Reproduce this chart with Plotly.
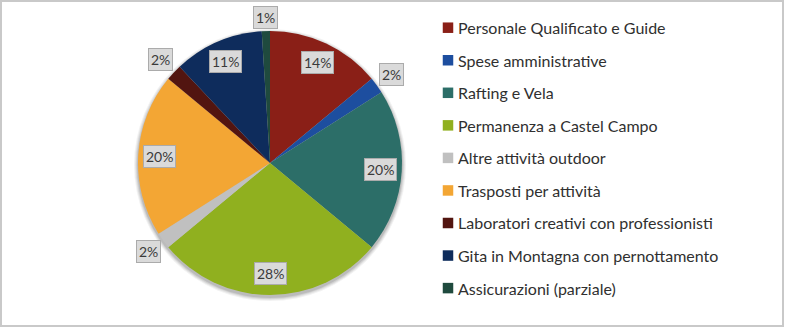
import math
import plotly.graph_objects as go

# Budget breakdown (percent of total)
categories = [
    "Personale Qualificato e Guide",
    "Spese amministrative",
    "Rafting e Vela",
    "Permanenza a Castel Campo",
    "Altre attività outdoor",
    "Trasposti per attività",
    "Laboratori creativi con professionisti",
    "Gita in Montagna con pernottamento",
    "Assicurazioni (parziale)",
]
shares = [14, 2, 20, 28, 2, 20, 2, 11, 1]
colors = [
    "#8a1f17", "#1d4e9f", "#2c6e68", "#90b01f", "#c0c0c0",
    "#f3a634", "#521510", "#0e2c5c", "#1f4a3e",
]

W, H = 785, 328
CX, CY, R = 270, 163, 132          # pie centre / radius in pixels (from top-left)
FONT = "Lato, 'Open Sans', sans-serif"

fig = go.Figure()

fig.add_trace(go.Pie(
    labels=categories,
    values=shares,
    sort=False,
    direction="clockwise",
    rotation=0,
    marker=dict(colors=colors, line=dict(width=0)),
    textinfo="none",
    hoverinfo="label+percent",
    showlegend=False,
    domain=dict(x=[(CX - R) / W, (CX + R) / W],
                y=[(H - CY - R) / H, (H - CY + R) / H]),
))

shapes = []

# soft shadow behind the pie
for grow, alpha in [(4, 0.05), (3, 0.06), (2, 0.08), (1, 0.10)]:
    rr = R + grow
    cy = CY + 2
    shapes.append(dict(
        type="circle", xref="paper", yref="paper", layer="below",
        x0=(CX - rr) / W, x1=(CX + rr) / W,
        y0=(H - cy - rr) / H, y1=(H - cy + rr) / H,
        fillcolor=f"rgba(0,0,0,{alpha})", line=dict(width=0),
    ))

# outer frame
shapes.append(dict(
    type="rect", xref="paper", yref="paper",
    x0=1 / W, x1=783 / W, y0=1 - 326 / H, y1=1 - 1 / H,
    line=dict(color="#c9c9c9", width=2), fillcolor="rgba(0,0,0,0)",
))

annotations = []

# percentage labels: inside for large slices, just outside for small ones
total = sum(shares)
cum = 0
for v in shares:
    mid = (cum + v / 2) / total * 2 * math.pi
    cum += v
    dist = R * (0.84 if v >= 5 else (1.1 if v < 1.5 else 1.14))
    px = CX + dist * math.sin(mid)
    py = CY - dist * math.cos(mid)
    annotations.append(dict(
        x=px / W, y=1 - py / H, xref="paper", yref="paper",
        text=f"{round(v / total * 100)}%", showarrow=False,
        font=dict(family=FONT, size=14, color="#3a3a3a"),
        bgcolor="#dadada", bordercolor="#ababab", borderwidth=1,
        borderpad=2, xanchor="center", yanchor="middle",
    ))

# legend: colour squares and category names
LX, LY0, DY, SQ = 448, 27.7, 32.55, 10.5
for i, (name, col) in enumerate(zip(categories, colors)):
    yc = LY0 + i * DY
    shapes.append(dict(
        type="rect", xref="paper", yref="paper",
        x0=(LX - SQ / 2) / W, x1=(LX + SQ / 2) / W,
        y0=1 - (yc + SQ / 2) / H, y1=1 - (yc - SQ / 2) / H,
        fillcolor=col, line=dict(width=0),
    ))
    annotations.append(dict(
        x=456 / W, y=1 - yc / H, xref="paper", yref="paper",
        text=name, showarrow=False, xanchor="left", yanchor="middle",
        font=dict(family=FONT, size=16, color="#303030"),
    ))

fig.update_layout(
    width=W, height=H,
    margin=dict(l=0, r=0, t=0, b=0),
    paper_bgcolor="white", plot_bgcolor="white",
    shapes=shapes, annotations=annotations,
)

fig.write_html("out.html")
